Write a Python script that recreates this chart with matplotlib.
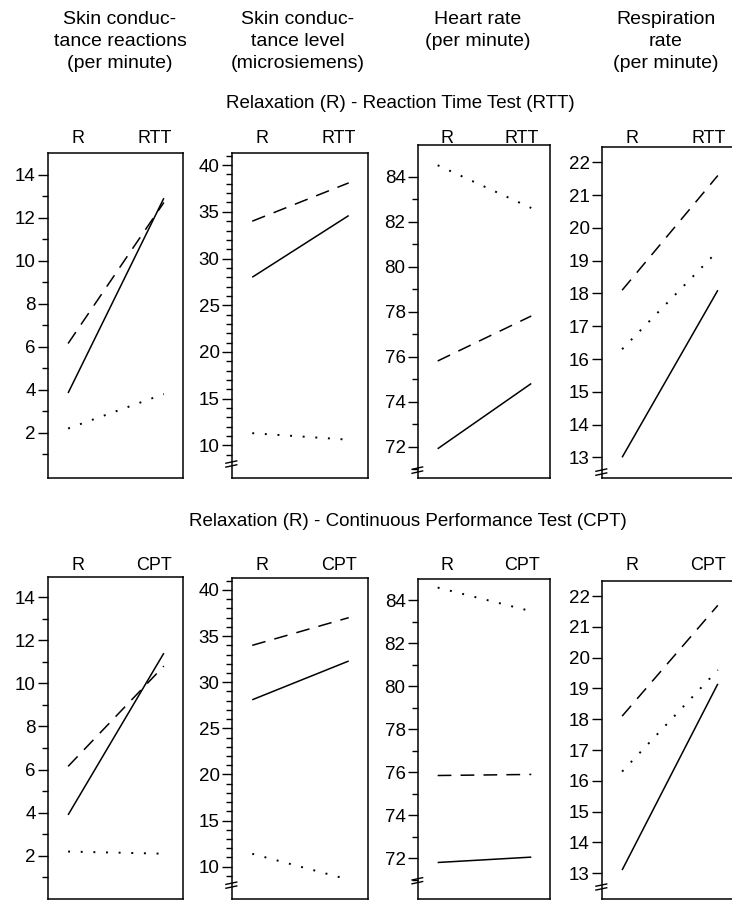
import matplotlib
matplotlib.use("Agg")
import matplotlib.pyplot as plt
from matplotlib.ticker import FixedLocator

plt.rcParams['font.family'] = ['Liberation Sans', 'DejaVu Sans']

# condition positions: relaxation, then test
conditions = [0, 1]

column_titles = [
    "Skin conduc-\ntance reactions\n(per minute)",
    "Skin conduc-\ntance level\n(microsiemens)",
    "Heart rate\n(per minute)",
    "Respiration\nrate\n(per minute)",
]
row_titles = [
    "Relaxation (R) - Reaction Time Test (RTT)",
    "Relaxation (R) - Continuous Performance Test (CPT)",
]
test_labels = ["RTT", "CPT"]

# Relaxation -> Reaction time test
scr_rtt_solid = [3.85, 12.9]
scr_rtt_dashed = [6.15, 12.7]
scr_rtt_dotted = [2.2, 3.8]
scl_rtt_solid = [28.0, 34.6]
scl_rtt_dashed = [34.0, 38.1]
scl_rtt_dotted = [11.3, 10.6]
hr_rtt_solid = [71.9, 74.8]
hr_rtt_dashed = [75.8, 77.8]
hr_rtt_dotted = [84.5, 82.6]
resp_rtt_solid = [13.0, 18.1]
resp_rtt_dashed = [18.1, 21.6]
resp_rtt_dotted = [16.3, 19.3]

# Relaxation -> Continuous performance test
scr_cpt_solid = [3.9, 11.4]
scr_cpt_dashed = [6.15, 10.8]
scr_cpt_dotted = [2.2, 2.1]
scl_cpt_solid = [28.1, 32.3]
scl_cpt_dashed = [34.0, 37.0]
scl_cpt_dotted = [11.4, 8.6]
hr_cpt_solid = [71.8, 72.05]
hr_cpt_dashed = [75.85, 75.9]
hr_cpt_dotted = [84.6, 83.5]
resp_cpt_solid = [13.1, 19.15]
resp_cpt_dashed = [18.1, 21.7]
resp_cpt_dotted = [16.3, 19.6]

panel_data = [
    [(scr_rtt_solid, scr_rtt_dashed, scr_rtt_dotted),
     (scl_rtt_solid, scl_rtt_dashed, scl_rtt_dotted),
     (hr_rtt_solid, hr_rtt_dashed, hr_rtt_dotted),
     (resp_rtt_solid, resp_rtt_dashed, resp_rtt_dotted)],
    [(scr_cpt_solid, scr_cpt_dashed, scr_cpt_dotted),
     (scl_cpt_solid, scl_cpt_dashed, scl_cpt_dotted),
     (hr_cpt_solid, hr_cpt_dashed, hr_cpt_dotted),
     (resp_cpt_solid, resp_cpt_dashed, resp_cpt_dotted)],
]

major_ticks = [
    [2, 4, 6, 8, 10, 12, 14],
    [10, 15, 20, 25, 30, 35, 40],
    [72, 74, 76, 78, 80, 82, 84],
    [13, 14, 15, 16, 17, 18, 19, 20, 21, 22],
]
minor_ticks = [
    [1, 3, 5, 7, 9, 11, 13],
    [v for v in range(9, 42) if v % 5 != 0],
    [71, 73, 75, 77, 79, 81, 83],
    [],
]

ylims = [
    [(-0.1, 15.0), (6.5, 41.3), (70.6, 85.4), (12.37, 22.47)],
    [(0.0, 14.93), (6.5, 41.3), (70.1, 85.0), (12.16, 22.49)],
]
# where the broken axis mark sits (None = axis starts at zero)
breaks = [None, 8.0, 70.95, 12.55]

W, H = 732, 901
# axes boxes in pixels
col_left = [48, 232, 418, 602]
col_width = [135, 136, 132, 135]
row_top = [[153, 153, 145, 147], [577, 578, 579, 581]]
row_bottom = [478, 899]
cond_label_base = [143, 570]


def draw_break(ax, y):
    tr = ax.get_yaxis_transform()
    y0, y1 = ax.get_ylim()
    d = (y1 - y0) * 0.006
    for off in (-d, d):
        ax.plot([-0.045, 0.035], [y + off - d * 0.6, y + off + d * 0.6],
                color='black', lw=1.0, transform=tr, clip_on=False)


fig = plt.figure(figsize=(W / 100, H / 100), dpi=100)

for r in range(2):
    for c in range(4):
        left = col_left[c] / W
        bottom = 1 - row_bottom[r] / H
        height = (row_bottom[r] - row_top[r][c]) / H
        ax = fig.add_axes([left, bottom, col_width[c] / W, height])

        solid, dashed, dotted = panel_data[r][c]
        ax.plot(conditions, solid, color='black', lw=1.1, solid_capstyle='butt')
        ax.plot(conditions, dashed, color='black', lw=1.1, linestyle=(0, (9, 6)))
        ax.plot(conditions, dotted, color='black', lw=1.4, linestyle=(0, (1, 5.5)))

        ax.set_xlim(-0.21, 1.2)
        ax.set_ylim(*ylims[r][c])
        ax.set_xticks([])
        ax.yaxis.set_major_locator(FixedLocator(major_ticks[c]))
        ax.yaxis.set_minor_locator(FixedLocator(minor_ticks[c]))
        ax.tick_params(axis='y', which='major', length=7, width=1.0,
                       labelsize=13.5, pad=2)
        ax.tick_params(axis='y', which='minor', length=4.5, width=1.0)
        for sp in ax.spines.values():
            sp.set_linewidth(1.1)

        if breaks[c] is not None:
            draw_break(ax, breaks[c])

        # condition labels sit on one baseline across the row
        ly = (row_bottom[r] - cond_label_base[r]) / (row_bottom[r] - row_top[r][c])
        ax.text(0.1, ly, "R", transform=ax.get_xaxis_transform(),
                ha='center', va='baseline', fontsize=13)
        ax.text(0.9, ly, test_labels[r], transform=ax.get_xaxis_transform(),
                ha='center', va='baseline', fontsize=13)

header_x = [120, 298, 478, 666]
for x, title in zip(header_x, column_titles):
    fig.text(x / W, 1 - 11 / H, title, ha='center', va='top', fontsize=14,
             linespacing=1.4)

fig.text(400 / W, 1 - 104 / H, row_titles[0], ha='center', va='center', fontsize=13.5)
fig.text(408 / W, 1 - 521 / H, row_titles[1], ha='center', va='center', fontsize=13.5)

fig.savefig("out.png", dpi=100)
